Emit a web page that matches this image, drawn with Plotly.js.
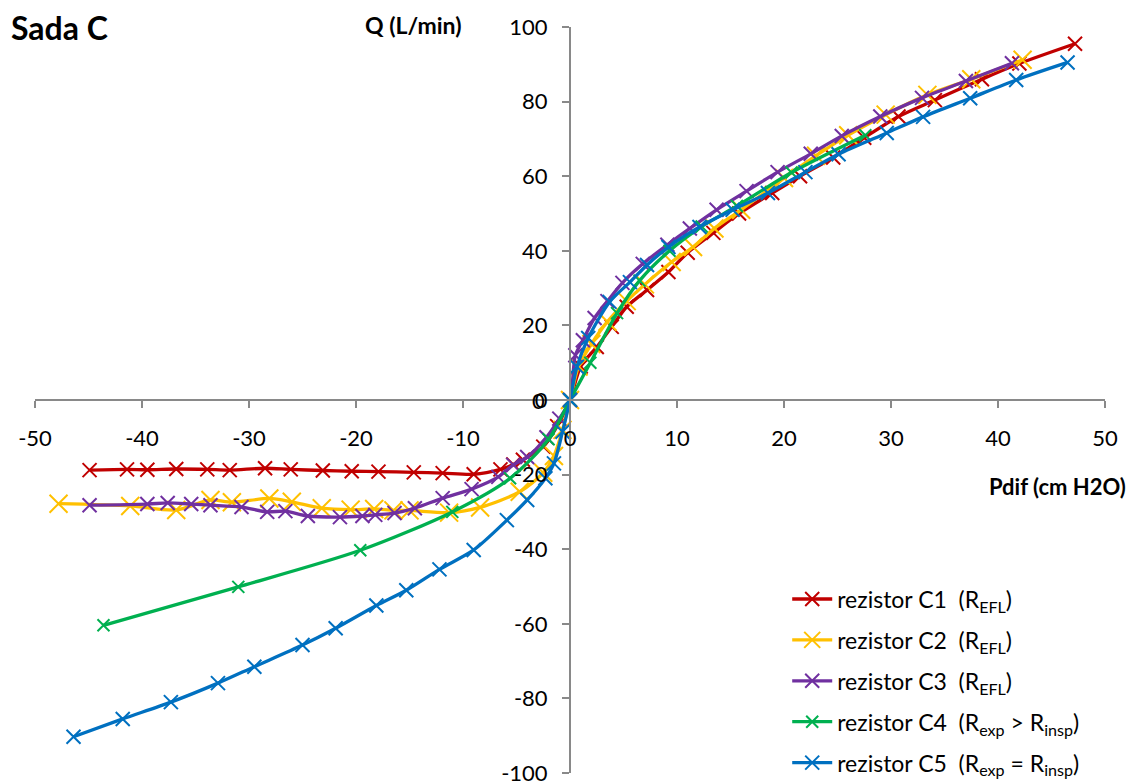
<!DOCTYPE html>
<html>
<head>
<meta charset="utf-8">
<script src="https://cdn.plot.ly/plotly-3.0.1.min.js"></script>
<style>html,body{margin:0;padding:0;background:#fff;}#chart{width:1130px;height:783px;}</style>
</head>
<body>
<div id="chart"></div>
<script>
// ---- data ----
const c1X = [-44.9, -41.4, -39.5, -36.8, -33.9, -31.8, -28.5, -26.1, -23.1, -20.4, -17.9, -14.6, -11.9, -9.0, -6.5, -5.3, -4.4, -2.5, -1.2, 0, 1.0, 2.5, 3.9, 5.3, 7.2, 9.2, 11.0, 13.4, 15.8, 18.9, 21.5, 24.6, 27.5, 30.7, 34.1, 38.5, 42.0, 47.2];
const c1Y = [-18.8, -18.6, -18.7, -18.5, -18.6, -18.8, -18.3, -18.6, -18.9, -19.1, -19.2, -19.4, -19.6, -19.9, -18.6, -17.3, -16.0, -12.5, -7.0, 0, 9.0, 14.2, 19.6, 25.0, 29.5, 34.3, 39.5, 44.8, 50.0, 55.5, 60.0, 65.0, 70.3, 76.0, 80.4, 86.0, 90.2, 95.5];

const c2X = [-47.8, -41.1, -36.8, -33.6, -31.6, -28.1, -26.0, -23.2, -20.5, -18.3, -16.5, -15.0, -11.3, -8.4, -4.7, -2.5, -1.5, -0.7, 0, 0.8, 2.0, 3.5, 5.3, 7.0, 9.5, 11.5, 13.5, 16.0, 20.0, 23.0, 26.0, 29.5, 33.4, 37.5, 42.3];
const c2Y = [-27.8, -28.4, -29.5, -26.8, -27.4, -26.4, -27.3, -29.0, -29.4, -29.2, -29.6, -29.6, -30.2, -28.8, -24.6, -19.5, -15.0, -8.0, 0, 9.0, 15.0, 21.0, 26.5, 31.0, 37.0, 41.0, 46.0, 51.0, 59.5, 65.5, 71.0, 76.5, 81.8, 86.0, 91.2];

const c3X = [-44.9, -39.5, -37.6, -35.4, -33.6, -30.7, -28.3, -26.6, -24.5, -21.5, -19.4, -18.2, -16.4, -14.5, -11.9, -9.2, -6.7, -5.3, -4.0, -2.2, -1.0, 0, 0.5, 1.2, 2.3, 3.5, 4.9, 6.8, 9.1, 11.2, 13.7, 16.5, 19.4, 22.5, 25.4, 29.0, 32.9, 37.0, 41.3];
const c3Y = [-28.2, -27.9, -27.6, -27.9, -28.2, -28.7, -30.0, -29.8, -31.1, -31.4, -31.1, -30.8, -30.3, -29.0, -26.3, -23.9, -20.6, -17.4, -15.3, -10.0, -5.0, 0, 12.0, 16.0, 22.0, 26.5, 31.4, 36.5, 41.6, 46.0, 51.0, 56.0, 61.1, 66.0, 70.8, 76.0, 81.0, 85.5, 90.3];

const c4X = [-43.6, -31.0, -19.6, -11.0, -5.6, -2.0, 0, 1.9, 4.4, 6.5, 9.3, 12.3, 15.6, 20.7, 27.6];
const c4Y = [-60.4, -50.1, -40.3, -30.0, -21.0, -10.5, 0, 10.0, 23.3, 32.0, 40.0, 46.5, 52.0, 61.0, 71.0];

const c5X = [-46.4, -41.8, -37.3, -32.9, -29.5, -25.0, -21.9, -18.1, -15.3, -12.2, -9.0, -5.9, -4.0, -2.3, -1.5, -0.7, 0, 0.65, 1.7, 3.7, 5.6, 7.2, 9.2, 12.1, 15.2, 18.5, 22.0, 25.1, 29.6, 33.0, 37.4, 41.7, 46.5];
const c5Y = [-90.3, -85.5, -81.0, -75.9, -71.5, -65.7, -61.2, -55.1, -51.0, -45.4, -40.2, -32.2, -26.8, -21.0, -17.0, -8.5, 0, 8.9, 16.6, 26.3, 31.6, 36.2, 41.0, 46.4, 51.0, 55.5, 61.1, 65.9, 71.6, 75.9, 80.9, 85.8, 90.5];

const xTickVals = [-50, -40, -30, -20, -10, 0, 10, 20, 30, 40, 50];
const xTickText = ['-50', '-40', '-30', '-20', '-10', '0', '10', '20', '30', '40', '50'];
const yTickVals = [-100, -80, -60, -40, -20, 0, 20, 40, 60, 80, 100];
const yTickText = ['-100', '-80', '-60', '-40', '-20', '0', '20', '40', '60', '80', '100'];

const seriesNames = [
  'rezistor C1\u00a0\u00a0(R<sub>EFL</sub>)',
  'rezistor C2\u00a0\u00a0(R<sub>EFL</sub>)',
  'rezistor C3\u00a0\u00a0(R<sub>EFL</sub>)',
  'rezistor C4\u00a0\u00a0(R<sub>exp</sub> > R<sub>insp</sub>)',
  'rezistor C5\u00a0\u00a0(R<sub>exp</sub> = R<sub>insp</sub>)'
];
const chartTitle = 'Sada C';
const yTitle = 'Q (L/min)';
const xTitle = 'Pdif (cm H2O)';

// ---- styles ----
const colors = ['#C00000', '#FFC000', '#7030A0', '#00B050', '#0070C0'];
const markerSizes = [14, 18, 14, 12, 14];
const xs = [c1X, c2X, c3X, c4X, c5X];
const ys = [c1Y, c2Y, c3Y, c4Y, c5Y];
const FONT = 'Lato, "Open Sans", "Noto Sans", sans-serif';

const traces = xs.map((x, i) => ({
  type: 'scatter',
  mode: 'lines+markers',
  x: x,
  y: ys[i],
  name: seriesNames[i],
  legendgroup: 'g' + i,
  line: {color: colors[i], width: 3.3, shape: 'spline', smoothing: 0.8},
  marker: {symbol: 'x-thin', size: markerSizes[i], color: colors[i], line: {color: colors[i], width: 2}},
  cliponaxis: false
}));

const axisCommon = {
  showgrid: false,
  zeroline: false,
  showline: true,
  linecolor: '#898989',
  linewidth: 2,
  ticks: 'outside',
  ticklen: 7,
  tickwidth: 2,
  tickcolor: '#898989',
  anchor: 'free',
  position: 0.5,
  automargin: false,
  ticklabeloverflow: 'allow',
  tickmode: 'array',
  tickfont: {family: FONT, size: 22, color: '#000'}
};

// Plotly hides the y tick label that sits on the crossing x axis; draw it as text
const yZeroLabel = yTickText[yTickVals.indexOf(0)];

const layout = {
  width: 1130,
  height: 783,
  margin: {l: 35, r: 25, t: 27, b: 10, autoexpand: false},
  paper_bgcolor: '#fff',
  plot_bgcolor: '#fff',
  font: {family: FONT, color: '#000'},
  showlegend: true,
  xaxis: Object.assign({}, axisCommon, {range: [-50, 50], tickvals: xTickVals, ticktext: xTickText, ticklabelstandoff: 12}),
  yaxis: Object.assign({}, axisCommon, {range: [-100, 100], tickvals: yTickVals, ticktext: yTickText, ticklabelstandoff: 10}),
  legend: {
    x: 0.703, y: 0.262, xanchor: 'left', yanchor: 'top',
    bgcolor: 'rgba(0,0,0,0)',
    font: {family: FONT, size: 23, color: '#000'},
    traceorder: 'grouped',
    tracegroupgap: 8,
    itemwidth: 40
  },
  annotations: [
    {text: '<b>' + chartTitle + '</b>', xref: 'paper', yref: 'paper', x: -0.024, y: 1.0, xanchor: 'left', yanchor: 'middle', showarrow: false, font: {family: FONT, size: 32, color: '#000'}},
    {text: '<b>' + yTitle + '</b>', xref: 'paper', yref: 'paper', x: 0.4, y: 1.003, xanchor: 'right', yanchor: 'middle', showarrow: false, font: {family: FONT, size: 23, color: '#000'}},
    {text: '<b>' + xTitle + '</b>', xref: 'paper', yref: 'paper', x: 1.0215, y: 0.3834, xanchor: 'right', yanchor: 'middle', showarrow: false, font: {family: FONT, size: 22, color: '#000'}},
    {text: yZeroLabel, xref: 'paper', yref: 'y', x: 0.4785, y: 0, xanchor: 'right', yanchor: 'middle', showarrow: false, font: {family: FONT, size: 22, color: '#000'}}
  ]
};

Plotly.newPlot('chart', traces, layout, {displayModeBar: false, staticPlot: true});
</script>
</body>
</html>
